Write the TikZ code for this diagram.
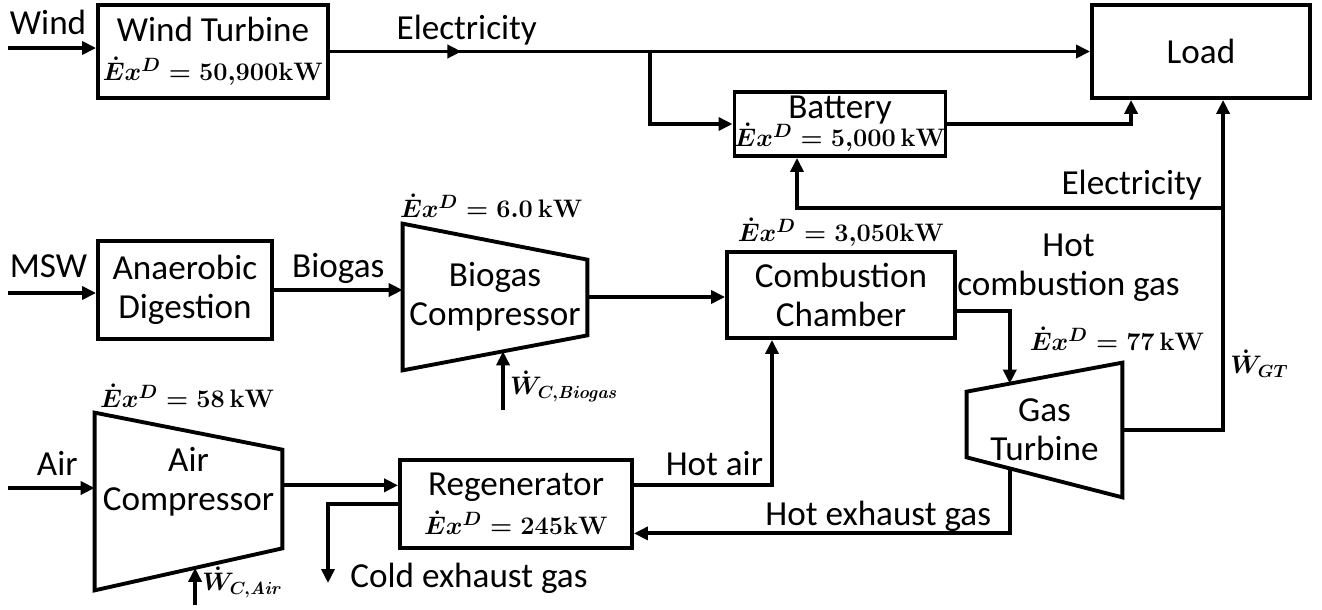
\documentclass[tikz,border=0pt]{standalone}
\usepackage[no-math]{fontspec}
\setmainfont{Carlito}
\usetikzlibrary{arrows.meta,positioning,calc,decorations.markings}
\newcommand{\boxfont}{\fontsize{20}{22}\selectfont}
\newcommand{\exfont}{\fontsize{15}{18}\selectfont\boldmath}
\newcommand{\ExD}[1]{$\dot{E}x^{D}=#1$}
\tikzset{
  unit/.style={draw,line width=2.2pt,align=center,inner sep=0pt,font=\boxfont},
  trap/.style={inner sep=0pt,align=center,font=\boxfont},
  trapline/.style={line width=2.2pt},
  flow/.style={-{Triangle[length=2.8mm,width=2.6mm]},line width=2.2pt},
  midtip/.style={postaction={decorate},decoration={markings,
      mark=at position #1 with {\arrow{Triangle[length=2.8mm,width=2.6mm]}}}},
  lbl/.style={font=\boxfont,inner sep=0pt},
  exlbl/.style={font=\exfont,inner sep=0pt},
  wlbl/.style={font=\fontsize{14}{17}\selectfont\boldmath,inner sep=1pt}
}
\begin{document}
\begin{tikzpicture}
  \useasboundingbox (0,0) rectangle (26.44,-12.18);
  % boxes
  \node[unit,minimum width=4.6cm,minimum height=1.86cm] (wt) at (4.26,-1.03) {Wind Turbine\\{\exfont\ExD{50{,}900\mathrm{kW}}}};
  \node[unit,minimum width=4.36cm,minimum height=1.86cm] (load) at (24.02,-1.03) {Load};
  \node[unit,minimum width=4.16cm,minimum height=1.28cm] (batt) at (16.8,-2.48) {Battery\\[-6pt]{\exfont\ExD{5{,}000\,\mathrm{kW}}}};
  \node[unit,minimum width=3.48cm,minimum height=1.96cm] (ad) at (3.7,-5.8) {Anaerobic\\Digestion};
  \node[unit,minimum width=4.56cm,minimum height=1.72cm] (cc) at (16.82,-5.9) {Combustion\\Chamber};
  \node[unit,minimum width=4.64cm,minimum height=1.76cm] (reg) at (10.32,-10.08) {Regenerator\\{\exfont\ExD{245\mathrm{kW}}}};

  % compressors and turbine
  \node[trap,minimum width=3.68cm,minimum height=2.92cm] (bcomp) at (9.9,-5.94) {Biogas\\Compressor};
  \draw[trapline] (bcomp.north west) -- ($(bcomp.north east)+(0,-0.72)$)
    -- ($(bcomp.south east)+(0,0.70)$) coordinate (bcomp-se) -- (bcomp.south west) -- cycle;
  \node[trap,minimum width=3.74cm,minimum height=3.54cm] (acomp) at (3.77,-10.03) {};
  \node[lbl,align=center] (acomp-t) at ($(acomp)+(0,0.4)$) {Air\\Compressor};
  \draw[trapline] (acomp.north west) -- ($(acomp.north east)+(0,-0.74)$)
    -- ($(acomp.south east)+(0,0.84)$) coordinate (acomp-se) -- (acomp.south west) -- cycle;
  \node[trap,minimum width=3.1cm,minimum height=2.68cm] (gt) at (20.89,-8.6) {Gas\\Turbine};
  \draw[trapline] ($(gt.north west)+(0,-0.58)$) coordinate (gt-nw) -- (gt.north east)
    -- (gt.south east) -- ($(gt.south west)+(0,0.8)$) coordinate (gt-sw) -- cycle;

  % exergy destruction labels
  \node[exlbl,above right=0.12cm and -0.06cm of bcomp.north west] (bcomp-ex) {\ExD{6.0\,\mathrm{kW}}};
  \node[exlbl,above right=0.1cm and 0.1cm of acomp.north west] (acomp-ex) {\ExD{58\,\mathrm{kW}}};
  \node[exlbl,above=0.06cm of cc.north] (cc-ex) {\ExD{3{,}050\mathrm{kW}}};
  \node[exlbl,above right=0.24cm and -0.3cm of gt.north] (gt-ex) {\ExD{77\,\mathrm{kW}}};

  % inlets
  \coordinate (windin) at (0.16,-0.96);
  \coordinate (mswin) at (0.16,-5.86);
  \coordinate (airin) at (0.16,-9.76);
  \coordinate (split) at (13,-1.03);
  \coordinate (tap) at (24.5,-4.16);
  \coordinate (cold) at (6.56,-11.66);
  \coordinate (wbio) at ($(bcomp.south west)!0.5435!(bcomp-se)$);
  \coordinate (wbio-in) at (wbio |- 0,-8.2);
  \coordinate (wair) at ($(acomp.south west)!0.535!(acomp-se)$);
  \coordinate (wair-in) at (wair |- 0,-12.1);
  \coordinate (gtin) at ($(gt-nw)!0.277!(gt.north east)$);
  \coordinate (gtout) at ($(gt-sw)!0.277!(gt.south east)$);

  \draw[flow] (windin) -- node[lbl,pos=0,anchor=south west,yshift=0.22cm] {Wind} (windin -| wt.west);
  \draw[flow,midtip=0.173] (wt.east) -- node[lbl,pos=0.18,above=0.08cm] {Electricity} (load.west);
  \draw[flow] (split) |- (batt.west);
  \draw[flow] (batt.east) -| ($(load.south west)+(0.82,0)$);
  \draw[flow] (gt.east) -| node[wlbl,pos=0.6,right=2pt] {$\dot{W}_{GT}$} ($(load.south west)+(2.66,0)$);
  \draw[flow] (tap) -| node[lbl,pos=0.109,above=0.12cm] {Electricity} ($(batt.south)+(-0.86,0)$);

  \draw[flow] (mswin) -- node[lbl,pos=0,anchor=south west,yshift=0.26cm] {MSW} (mswin -| ad.west);
  \draw[flow] (ad.east) -- node[lbl,above=0.1cm] {Biogas} (ad.east -| bcomp.west);
  \draw[flow] (bcomp.east) -- (bcomp.east -| cc.west);
  \draw[flow] (wbio-in) -- node[wlbl,pos=0.4,right=2pt] {$\dot{W}_{C,\mathit{Biogas}}$} (wbio);

  \draw[flow] (airin) -- node[lbl,pos=0,anchor=south west,yshift=0.22cm,xshift=0.54cm] {Air} (airin -| acomp.west);
  \draw[flow] (acomp.east |- reg.171) -- (reg.171);
  \draw[flow] (wair-in) -- node[wlbl,pos=0.6,right=2pt] {$\dot{W}_{C,\mathit{Air}}$} (wair);
  \draw[flow] (reg.west) -| (cold);
  \node[lbl,anchor=west] (coldlbl) at ($(cold)+(0.44,0.1)$) {Cold exhaust gas};

  \draw[flow] (reg.9) -| node[lbl,pos=0.5,anchor=south east,xshift=-0.14cm,yshift=0.16cm] {Hot air} ($(cc.south)+(-1.38,0)$);
  \draw[flow] (cc.-8) -| (gtin);
  \node[lbl,align=center,anchor=west] (hcg) at ($(cc.east)+(0,0.54)$) {Hot\\combustion gas};
  \draw[flow] (gtout) |- node[lbl,pos=0.675,above=0cm] {Hot exhaust gas} (reg.-14);
\end{tikzpicture}
\end{document}
